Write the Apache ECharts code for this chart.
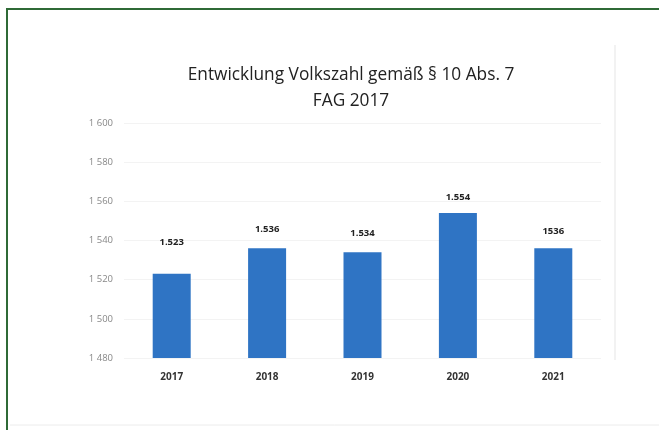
<!DOCTYPE html>
<html><head><meta charset="utf-8">
<script src="https://cdn.jsdelivr.net/npm/echarts@6/dist/echarts.min.js"></script>
<style>html,body{margin:0;padding:0;background:#fff}#c{width:659px;height:430px}</style>
</head><body><div id="c"></div>
<script>
const categories = ['2017','2018','2019','2020','2021'];
const values = [1523, 1536, 1534, 1554, 1536];
const valueLabels = ['1.523','1.536','1.534','1.554','1536'];
const yTickLabels = {1480:'1 480',1500:'1 500',1520:'1 520',1540:'1 540',1560:'1 560',1580:'1 580',1600:'1 600'};
const titleLines = ['Entwicklung Volkszahl gemäß § 10 Abs. 7', 'FAG 2017'];

const chart = echarts.init(document.getElementById('c'), null, {renderer:'canvas'});
const labelDist = [26, 14, 14, 11, 12];
chart.setOption({
  animation:false,
  backgroundColor:'#fff',
  title:{
    text: titleLines.join('\n'),
    left: 346, top: 57, textAlign:'center',
    textStyle:{fontFamily:'Open Sans', fontSize:17.3, fontWeight:'normal', color:'#222', lineHeight:26}
  },
  graphic:[
    {type:'line', shape:{x1:7,y1:8,x2:7,y2:430}, style:{stroke:'#2f6a36', lineWidth:2}},
    {type:'line', shape:{x1:7,y1:9,x2:659,y2:9}, style:{stroke:'#2f6a36', lineWidth:2}},
    {type:'line', shape:{x1:615,y1:45,x2:615,y2:360}, style:{stroke:'#f2f2f2', lineWidth:2}},
    {type:'line', shape:{x1:10,y1:425,x2:659,y2:425}, style:{stroke:'#ececec', lineWidth:1}}
  ],
  grid:{left:124, right:58, top:123, bottom:72},
  xAxis:{
    type:'category', data:categories,
    axisLine:{show:false}, axisTick:{show:false},
    axisLabel:{margin:14, fontFamily:'Open Sans', fontSize:10, fontWeight:'bold', color:'#333'}
  },
  yAxis:{
    type:'value', min:1480, max:1600, interval:20,
    axisLine:{show:false}, axisTick:{show:false},
    splitLine:{lineStyle:{color:'#f3f3f3', width:1}},
    axisLabel:{margin:11, fontFamily:'Open Sans', fontSize:9.5, color:'#888', formatter:v=>yTickLabels[v]||''}
  },
  series:[{
    type:'bar', barWidth:38,
    data: values.map((v,i)=>({value:v, label:{distance:labelDist[i]}})),
    itemStyle:{color:'#2f74c4'},
    label:{show:true, position:'top', fontFamily:'Open Sans', fontSize:9.5, fontWeight:'bold', color:'#222',
      formatter:p=>valueLabels[p.dataIndex]}
  }]
});
</script></body></html>
